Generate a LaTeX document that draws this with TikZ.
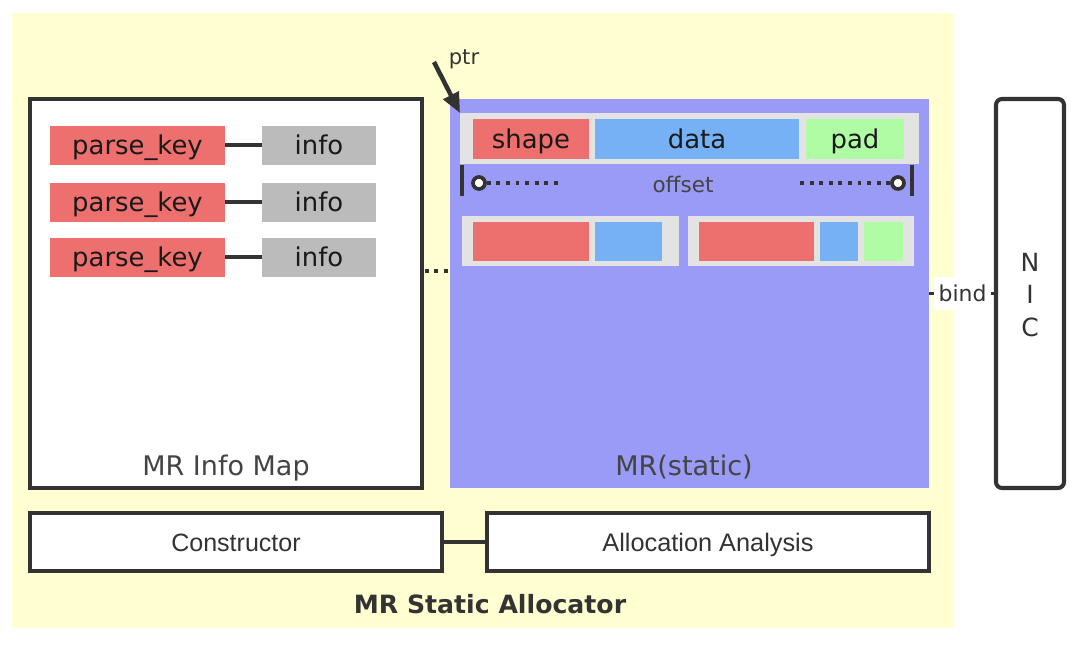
\documentclass[tikz,border=0pt]{standalone}
\usepackage{fontspec}
\setmainfont{DejaVu Sans}
\newfontfamily\arialfont{Liberation Sans}
\usetikzlibrary{arrows.meta,calc}
\definecolor{bgyellow}{HTML}{FFFFD2}
\definecolor{keyred}{HTML}{EE706E}
\definecolor{infogray}{HTML}{BBBBBB}
\definecolor{datablue}{HTML}{77B1F5}
\definecolor{padgreen}{HTML}{B0FCA4}
\definecolor{mrpurple}{HTML}{9A9AF7}
\definecolor{slotgray}{HTML}{E3E3E3}
\definecolor{ink}{HTML}{333333}
\definecolor{labelgray}{HTML}{444444}

\begin{document}
\begin{tikzpicture}[x=0.025cm,y=-0.025cm,
    sz/.style 2 args={minimum width=#1*0.025cm,minimum height=#2*0.025cm},
    blk/.style={inner sep=0pt,outer sep=0pt,text=black!90,text height=16pt,text depth=3.2pt,font=\fontsize{18.4}{20}\selectfont},
    frame/.style={blk,draw=ink,line width=2.5pt,fill=white},
    lbl/.style={text=labelgray,font=\fontsize{19.2}{22}\selectfont},
    link/.style={draw=ink,line width=2.6pt},
    dotline/.style={draw=ink,line width=2.8pt,dash pattern=on 2.8pt off 4pt}]
\useasboundingbox (0,0) rectangle (1080,645);
\fill[bgyellow] (12,13) rectangle (953,628);

\node[frame,sz={392}{389}] (infomap) at (226,293.5) {};
\node[lbl] (infolbl) at (226,468) {MR Info Map};
\node[blk,fill=keyred,sz={175}{39}] (key1) at (137.5,145) {parse\_key};
\node[blk,fill=keyred,sz={175}{39}] (key2) at (137.5,202) {parse\_key};
\node[blk,fill=keyred,sz={175}{39}] (key3) at (137.5,257) {parse\_key};
\node[blk,fill=infogray,sz={114}{39}] (info1) at (319,145) {info};
\node[blk,fill=infogray,sz={114}{39}] (info2) at (319,202) {info};
\node[blk,fill=infogray,sz={114}{39}] (info3) at (319,257) {info};
\draw[link] (key1)--(info1);
\draw[link] (key2)--(info2);
\draw[link] (key3)--(info3);

\node[blk,fill=mrpurple,sz={479}{389}] (mr) at (689.5,293.5) {};
\node[lbl] (mrlbl) at (684,467) {MR(static)};
\node[blk,fill=slotgray,sz={459}{51}] (slot1) at (689.5,138.5) {};
\node[blk,fill=keyred,sz={116}{40}] (shape) at (531,139) {shape};
\node[blk,fill=datablue,sz={204}{40}] (data) at (697,139) {data};
\node[blk,fill=padgreen,sz={98}{40}] (pad) at (855,139) {pad};

\draw[ink,line width=2.8pt] (462,165)--(462,196);
\draw[ink,line width=2.8pt] (912,165)--(912,196);
\node[circle,draw=ink,fill=white,line width=2.6pt,inner sep=0pt,minimum size=0.3cm] (offl) at (479,183) {};
\node[circle,draw=ink,fill=white,line width=2.6pt,inner sep=0pt,minimum size=0.3cm] (offr) at (898,183) {};
\coordinate (dotl) at (562,183);
\coordinate (dotr) at (800,183);
\draw[dotline] (offl)--(dotl);
\draw[dotline] (offr)--(dotr);
\node[text=labelgray,font=\fontsize{15.3}{18}\selectfont] (offset) at (683,184) {offset};

\node[blk,fill=slotgray,sz={217}{50}] (slot2) at (570.5,241) {};
\node[blk,fill=keyred,sz={116}{39}] (shape2) at (531,241.5) {};
\node[blk,fill=datablue,sz={67}{39}] (data2) at (628.5,241.5) {};
\node[blk,fill=slotgray,sz={226}{50}] (slot3) at (801,241) {};
\node[blk,fill=keyred,sz={115}{39}] (shape3) at (756.5,241.5) {};
\node[blk,fill=datablue,sz={38}{39}] (data3) at (839,241.5) {};
\node[blk,fill=padgreen,sz={39}{39}] (pad3) at (883.5,241.5) {};

\coordinate (ptrtail) at (434,62);
\node[text=ink,font=\fontsize{15}{18}\selectfont] (ptr) at (464,59) {ptr};
\draw[ink,line width=3.2pt,-{Triangle[length=0.5cm,width=0.42cm]}] (ptrtail)--(slot1.north west);

\draw[dotline] ([xshift=2pt,yshift=0.56cm]infomap.east)--([yshift=0.56cm]mr.west);

\node[frame,rounded corners=0.15cm,line width=2.9pt,sz={68}{389}] (nic) at (1030,293.5) {};
\node[text=ink,align=center,font=\fontsize{17.8}{22.8}\selectfont] (niclbl) at (1030,295) {N\\I\\C};
\draw[ink,line width=2.6pt] (mr.east)--(nic.west) node[midway,fill=white,text=ink,inner xsep=3pt,inner ysep=6pt,font=\fontsize{15.6}{18}\selectfont] (bind) {bind};

\node[frame,sz={412}{58},text=ink,font=\arialfont\fontsize{17.8}{20}\selectfont] (ctor) at (236,542) {Constructor};
\node[frame,sz={442}{58},text=ink,font=\arialfont\fontsize{18}{20}\selectfont] (analysis) at (708,542) {Allocation Analysis};
\draw[link] (ctor)--(analysis);

\node[text=ink,font=\bfseries\fontsize{17.9}{20}\selectfont] (title) at (490,604) {MR Static Allocator};
\end{tikzpicture}
\end{document}
